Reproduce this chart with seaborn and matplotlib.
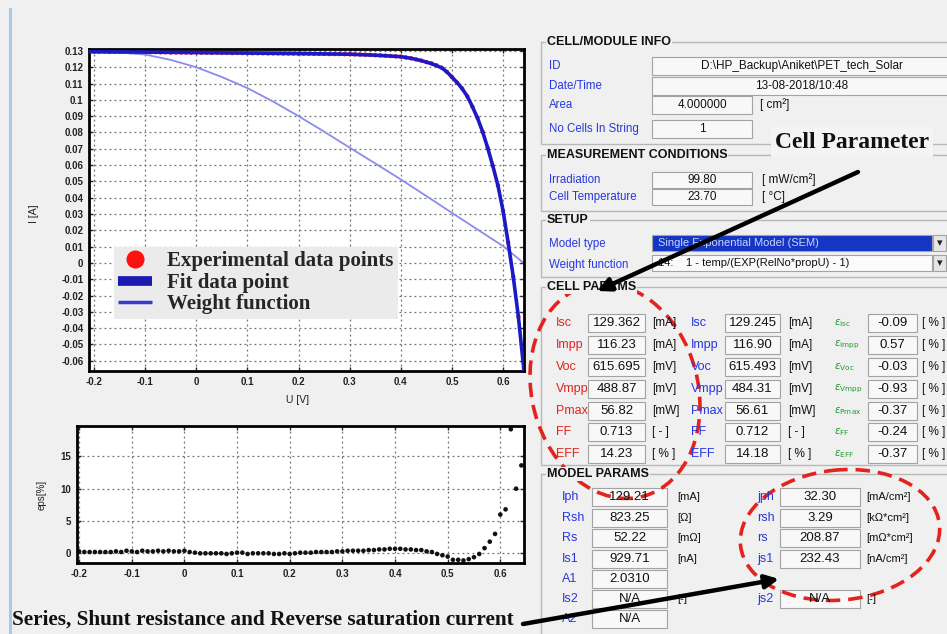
import matplotlib
matplotlib.use("Agg")
import matplotlib.pyplot as plt
import seaborn as sns
from matplotlib.patches import Rectangle, Ellipse
from matplotlib.lines import Line2D

# ------------------------------------------------------------------ data
exp_U = [-0.20, -0.19, -0.18, -0.17, -0.16, -0.15, -0.14, -0.13, -0.12, -0.11,
         -0.10, -0.09, -0.08, -0.07, -0.06, -0.05, -0.04, -0.03, -0.02, -0.01,
         0.00, 0.01, 0.02, 0.03, 0.04, 0.05, 0.06, 0.07, 0.08, 0.09,
         0.10, 0.11, 0.12, 0.13, 0.14, 0.15, 0.16, 0.17, 0.18, 0.19,
         0.20, 0.21, 0.22, 0.23, 0.24, 0.25, 0.26, 0.27, 0.28, 0.29,
         0.30, 0.31, 0.32, 0.33, 0.34, 0.35, 0.36, 0.37, 0.38, 0.39,
         0.40, 0.41, 0.42, 0.43, 0.44, 0.45, 0.46, 0.47, 0.48, 0.49,
         0.50, 0.51, 0.52, 0.53, 0.54, 0.55, 0.56, 0.57, 0.58, 0.59,
         0.60, 0.61, 0.62, 0.63]
exp_I = [0.1296, 0.1295, 0.1296, 0.1294, 0.1295, 0.1294, 0.1295, 0.1293, 0.1294, 0.1292,
         0.1293, 0.1292, 0.1293, 0.1291, 0.1292, 0.1290, 0.1291, 0.1290, 0.1290, 0.1289,
         0.1290, 0.1289, 0.1289, 0.1288, 0.1289, 0.1288, 0.1288, 0.1287, 0.1288, 0.1287,
         0.1287, 0.1286, 0.1286, 0.1286, 0.1285, 0.1285, 0.1285, 0.1284, 0.1284, 0.1284,
         0.1283, 0.1283, 0.1283, 0.1282, 0.1282, 0.1282, 0.1281, 0.1281, 0.1281, 0.1280,
         0.1280, 0.1279, 0.1278, 0.1277, 0.1276, 0.1274, 0.1273, 0.1271, 0.1269, 0.1267,
         0.1265, 0.1260, 0.1255, 0.1248, 0.1241, 0.1232, 0.1224, 0.1212, 0.1197, 0.1172,
         0.1140, 0.1106, 0.1070, 0.1022, 0.0958, 0.0890, 0.0805, 0.0705, 0.0595, 0.0475,
         0.0320, 0.0125, -0.0085, -0.0330]

fit_U = [-0.21, -0.10, 0.00, 0.10, 0.20, 0.30, 0.35, 0.40, 0.42, 0.44, 0.46, 0.48,
         0.49, 0.50, 0.51, 0.52, 0.53, 0.54, 0.55, 0.56, 0.57, 0.58, 0.59, 0.60,
         0.61, 0.62, 0.63, 0.641]
fit_I = [0.1295, 0.1293, 0.1290, 0.1287, 0.1284, 0.1280, 0.1274, 0.1265, 0.1255, 0.1241, 0.1222, 0.1197,
         0.1172, 0.1140, 0.1107, 0.1069, 0.1022, 0.0959, 0.0889, 0.0805, 0.0705, 0.0595, 0.0475, 0.0320,
         0.0125, -0.0085, -0.0330, -0.0663]

wgt_U = [-0.21, -0.15, -0.10, -0.05, 0.00, 0.05, 0.10, 0.15, 0.20, 0.25,
         0.30, 0.35, 0.40, 0.45, 0.50, 0.55, 0.60, 0.640]
wgt_I = [0.1298, 0.1290, 0.1278, 0.1245, 0.1200, 0.1140, 0.1072, 0.0990, 0.0900, 0.0805,
         0.0707, 0.0610, 0.0512, 0.0410, 0.0307, 0.0205, 0.0103, 0.0000]

eps_U = exp_U + [0.64]
eps_val = [0.3, 0.2, 0.2, 0.2, 0.2, 0.2, 0.2, 0.3, 0.2, 0.4,
           0.3, 0.2, 0.4, 0.3, 0.3, 0.4, 0.3, 0.4, 0.3, 0.3,
           0.4, 0.2, 0.1, 0.0, 0.0, 0.0, 0.0, 0.0, -0.1, 0.0,
           0.1, 0.1, -0.1, 0.0, 0.0, 0.0, 0.0, -0.1, -0.1, 0.0,
           -0.1, 0.0, 0.1, 0.1, 0.1, 0.2, 0.2, 0.2, 0.2, 0.3,
           0.3, 0.4, 0.4, 0.4, 0.4, 0.5, 0.5, 0.6, 0.6, 0.7,
           0.7, 0.7, 0.6, 0.6, 0.5, 0.5, 0.3, 0.2, -0.1, -0.3,
           -0.5, -1.0, -1.0, -1.1, -0.9, -0.6, -0.1, 0.8, 1.8, 3.0,
           6.0, 6.8, 19.2, 10.0, 13.6]

x_ticks = [-0.2, -0.1, 0.0, 0.1, 0.2, 0.3, 0.4, 0.5, 0.6]
x_ticklabels = ["-0.2", "-0.1", "0", "0.1", "0.2", "0.3", "0.4", "0.5", "0.6"]
iv_yticks = [0.13, 0.12, 0.11, 0.10, 0.09, 0.08, 0.07, 0.06, 0.05, 0.04, 0.03, 0.02, 0.01,
             0.0, -0.01, -0.02, -0.03, -0.04, -0.05, -0.06]
iv_yticklabels = ["0.13", "0.12", "0.11", "0.1", "0.09", "0.08", "0.07", "0.06", "0.05", "0.04",
                  "0.03", "0.02", "0.01", "0", "-0.01", "-0.02", "-0.03", "-0.04", "-0.05", "-0.06"]
eps_yticks = [0, 5, 10, 15]
eps_yticklabels = ["0", "5", "10", "15"]

legend_labels = ["Experimental data points", "Fit data point", "Weight function"]

info_labels = ["ID", "Date/Time", "Area", "No Cells In String"]
info_values = ["D:\\HP_Backup\\Aniket\\PET_tech_Solar", "13-08-2018/10:48", "4.000000", "1"]
info_units = ["", "", "[ cm\u00b2]", ""]
cond_labels = ["Irradiation", "Cell Temperature"]
cond_values = ["99.80", "23.70"]
cond_units = ["[ mW/cm\u00b2]", "[ \u00b0C]"]
setup_labels = ["Model type", "Weight function"]
setup_values = ["Single Exponential Model (SEM)", "14:    1 - temp/(EXP(RelNo*propU) - 1)"]

cell_names = ["Isc", "Impp", "Voc", "Vmpp", "Pmax", "FF", "EFF"]
meas_vals = ["129.362", "116.23", "615.695", "488.87", "56.82", "0.713", "14.23"]
fit_vals = ["129.245", "116.90", "615.493", "484.31", "56.61", "0.712", "14.18"]
cell_units = ["[mA]", "[mA]", "[mV]", "[mV]", "[mW]", "[ - ]", "[ % ]"]
err_vals = ["-0.09", "0.57", "-0.03", "-0.93", "-0.37", "-0.24", "-0.37"]

model_left_names = ["Iph", "Rsh", "Rs", "Is1", "A1", "Is2", "A2"]
model_left_vals = ["129.21", "823.25", "52.22", "929.71", "2.0310", "N/A", "N/A"]
model_left_units = ["[mA]", "[\u03a9]", "[m\u03a9]", "[nA]", "", "[-]", ""]
model_right_names = ["jph", "rsh", "rs", "js1", "", "js2", ""]
model_right_vals = ["32.30", "3.29", "208.87", "232.43", "", "N/A", ""]
model_right_units = ["[mA/cm\u00b2]", "[k\u03a9*cm\u00b2]", "[m\u03a9*cm\u00b2]", "[nA/cm\u00b2]", "", "[-]", ""]

note_cell = "Cell Parameter"
note_model = "Series, Shunt resistance and Reverse saturation current"

# ------------------------------------------------------------------ style
sns.set_theme(style="white")
plt.rcParams["font.family"] = ["Liberation Sans", "DejaVu Sans"]

W, H = 947, 634
BG = "#f0f0f0"
fig = plt.figure(figsize=(W / 100, H / 100), dpi=100, facecolor=BG)


def frac(x0, y0, x1, y1):
    return [x0 / W, 1 - y1 / H, (x1 - x0) / W, (y1 - y0) / H]


def style_axes(ax):
    ax.set_facecolor("white")
    ax.grid(True, color="#707070", linestyle=(0, (1.5, 2.5)), linewidth=0.9)
    for s in ax.spines.values():
        s.set_visible(True)
        s.set_color("black")
        s.set_linewidth(2)
    ax.tick_params(axis="both", which="both", direction="in", length=3, width=1,
                   top=True, right=True, bottom=True, left=True,
                   labelsize=7, labelcolor="#222222", pad=4)
    for t in ax.get_xticklabels() + ax.get_yticklabels():
        t.set_fontweight("bold")


# ---- I-V plot
ax = fig.add_axes(frac(89, 49, 524, 371))
sns.scatterplot(x=exp_U, y=exp_I, ax=ax, color="#ff1a1a", s=10, edgecolor="none",
                legend=False, zorder=2)
sns.lineplot(x=wgt_U, y=wgt_I, ax=ax, color="#8a8cec", linewidth=1.3, legend=False, zorder=2)
sns.lineplot(x=fit_U, y=fit_I, ax=ax, color="#1a1ac8", linewidth=2.6, legend=False, zorder=3)
ax.set_xlim(-0.21, 0.641)
ax.set_ylim(-0.0663, 0.1312)
ax.set_xticks(x_ticks)
ax.set_xticklabels(x_ticklabels)
ax.set_yticks(iv_yticks)
ax.set_yticklabels(iv_yticklabels)
style_axes(ax)
ax.set_xlabel("U [V]", fontsize=7.5, color="#222222")
ax.set_ylabel("I [A]", fontsize=7.5, color="#222222")
ax.xaxis.set_label_coords(0.48, -0.075)
ax.yaxis.set_label_coords(-0.115, 0.49)

handles = [Line2D([], [], marker="o", color="#ff1010", markersize=12, linestyle="none"),
           Line2D([], [], color="#1a1ab0", linewidth=7, solid_capstyle="butt"),
           Line2D([], [], color="#3a3acc", linewidth=2.5, solid_capstyle="butt")]
leg = ax.legend(handles, legend_labels, loc="upper left",
                bbox_to_anchor=(114 / W, 1 - 247 / H), bbox_transform=fig.transFigure,
                prop={"family": "Liberation Serif", "weight": "bold", "size": 15},
                frameon=True, facecolor="#ebebeb", edgecolor="none", framealpha=1,
                fancybox=False, borderpad=0.2, labelspacing=0.08,
                handlelength=1.6, handletextpad=0.75, borderaxespad=0)
leg.set_zorder(5)

# ---- eps plot
ax2 = fig.add_axes(frac(77, 426, 524, 563))
sns.scatterplot(x=eps_U, y=eps_val, ax=ax2, color="#111111", s=11, edgecolor="none",
                legend=False)
ax2.set_xlim(-0.204, 0.645)
ax2.set_ylim(-1.5, 19.7)
ax2.set_xticks(x_ticks)
ax2.set_xticklabels(x_ticklabels)
ax2.set_yticks(eps_yticks)
ax2.set_yticklabels(eps_yticklabels)
style_axes(ax2)
ax2.set_xlabel("")
ax2.set_ylabel("eps[%]", fontsize=7, color="#222222")
ax2.yaxis.set_label_coords(-0.068, 0.5)

# ------------------------------------------------------------------ overlay (panel)
ov = fig.add_axes([0, 0, 1, 1], zorder=10)
ov.set_xlim(0, W)
ov.set_ylim(H, 0)
ov.axis("off")
ov.patch.set_alpha(0)

# left window border
ov.add_patch(Rectangle((9, 8), 3, H, facecolor="#a9c9e6", edgecolor="none"))

RED = "#e4231e"
BLUE = "#2638e0"
GREEN = "#1e9a2a"


def group(title, y0, y1):
    ov.add_patch(Rectangle((541, y0), W - 541 + 10, y1 - y0, fill=False,
                           edgecolor="#b8b8b8", linewidth=1))
    ov.text(547, y0, title, fontsize=9, fontweight="bold", color="#111111",
            va="center", ha="left",
            bbox=dict(facecolor=BG, edgecolor="none", pad=0.5))


def field(x0, x1, yc, text, h=17, fc="#f8f8f8", tc="#111111", ha="center", fs=8.5):
    ov.add_patch(Rectangle((x0, yc - h / 2), x1 - x0, h, facecolor=fc,
                           edgecolor="#a3a3a3", linewidth=0.8))
    if ha == "center":
        ov.text((x0 + x1) / 2, yc, text, fontsize=fs, color=tc, ha="center", va="center")
    else:
        ov.text(x0 + 6, yc, text, fontsize=fs, color=tc, ha="left", va="center")


# CELL/MODULE INFO
group("CELL/MODULE INFO", 42, 144)
info_y = [66, 86, 105, 129]
info_x1 = [952, 952, 752, 752]
for lab, val, unit, yy, x1 in zip(info_labels, info_values, info_units, info_y, info_x1):
    ov.text(549, yy, lab, fontsize=8.3, color=BLUE, ha="left", va="center")
    field(652, x1, yy, val, h=18)
    if unit:
        ov.text(760, yy, unit, fontsize=8.5, color="#111111", ha="left", va="center")

# MEASUREMENT CONDITIONS
group("MEASUREMENT CONDITIONS", 155, 211)
for lab, val, unit, yy in zip(cond_labels, cond_values, cond_units, [180, 197]):
    ov.text(549, yy, lab, fontsize=8.3, color=BLUE, ha="left", va="center")
    field(652, 752, yy, val, h=16)
    ov.text(762, yy, unit, fontsize=8.5, color="#111111", ha="left", va="center")

# SETUP
group("SETUP", 220, 277)
ov.text(549, 244, setup_labels[0], fontsize=8.3, color=BLUE, ha="left", va="center")
field(652, 932, 243, setup_values[0], h=16, fc="#1536c4", tc="#c8d4ff", ha="left", fs=8)
ov.text(549, 265, setup_labels[1], fontsize=8.3, color=BLUE, ha="left", va="center")
field(652, 932, 263, setup_values[1], h=16, fc="#fbfbfb", ha="left", fs=8)
for yy in (243, 263):
    ov.add_patch(Rectangle((933, yy - 8), 13, 16, facecolor="#e6e6e6",
                           edgecolor="#a3a3a3", linewidth=0.8))
    ov.text(939.5, yy, "\u25be", fontsize=8, color="#222222", ha="center", va="center",
            family="DejaVu Sans")

# CELL PARAMS
group("CELL PARAMS", 287, 465)
row_y = [323, 345, 367, 389, 411, 432, 454]
for i, yy in enumerate(row_y):
    ov.text(556, yy, cell_names[i], fontsize=9, color=RED, ha="left", va="center")
    field(588, 645, yy, meas_vals[i], h=18, fs=9.5)
    ov.text(652, yy, cell_units[i], fontsize=8.5, color="#111111", ha="left", va="center")
    ov.text(691, yy, cell_names[i], fontsize=9, color=BLUE, ha="left", va="center")
    field(725, 780, yy, fit_vals[i], h=18, fs=9.5)
    ov.text(788, yy, cell_units[i], fontsize=8.5, color="#111111", ha="left", va="center")
    ov.text(834, yy, r"$\varepsilon_{\mathrm{" + cell_names[i] + "}}$", fontsize=7.5,
            color=GREEN, ha="left", va="center")
    field(868, 917, yy, err_vals[i], h=18, fs=9.5)
    ov.text(922, yy, "[ % ]", fontsize=8.5, color="#111111", ha="left", va="center")

# MODEL PARAMS
group("MODEL PARAMS", 474, 645)
mrow_y = [497, 518, 538, 559, 579, 599, 619]
for i, yy in enumerate(mrow_y):
    ov.text(562, yy, model_left_names[i], fontsize=9, color=BLUE, ha="left", va="center")
    field(592, 667, yy, model_left_vals[i], h=18, fs=9.5)
    if model_left_units[i]:
        ov.text(677, yy, model_left_units[i], fontsize=8, color="#111111", ha="left", va="center")
    if model_right_names[i]:
        ov.text(757, yy, model_right_names[i], fontsize=9, color=BLUE, ha="left", va="center")
        field(780, 860, yy, model_right_vals[i], h=18, fs=9.5)
        ov.text(866, yy, model_right_units[i], fontsize=8, color="#111111", ha="left", va="center")

# annotations
ov.text(775, 142, note_cell, fontsize=17, fontweight="bold", family="Liberation Serif",
        color="#111111", ha="left", va="center",
        bbox=dict(facecolor="#f4f4f4", edgecolor="none", pad=3))
ov.text(12, 620, note_model, fontsize=15.3, fontweight="bold", family="Liberation Serif",
        color="#111111", ha="left", va="center")

ov.add_patch(Ellipse((615, 391), 166, 218, angle=-15, fill=False, edgecolor=RED,
                     linewidth=2.6, linestyle=(0, (4, 2.2))))
ov.add_patch(Ellipse((840, 535), 200, 130, angle=-6, fill=False, edgecolor=RED,
                     linewidth=2.6, linestyle=(0, (4, 2.2))))

ov.annotate("", xy=(597, 291), xytext=(858, 172),
            arrowprops=dict(arrowstyle="-|>", color="black", lw=3.2, mutation_scale=20,
                            shrinkA=0, shrinkB=0))
ov.annotate("", xy=(779, 579), xytext=(523, 624),
            arrowprops=dict(arrowstyle="-|>", color="black", lw=3.2, mutation_scale=20,
                            shrinkA=0, shrinkB=0))

fig.savefig("out.png", dpi=100, facecolor=BG)
